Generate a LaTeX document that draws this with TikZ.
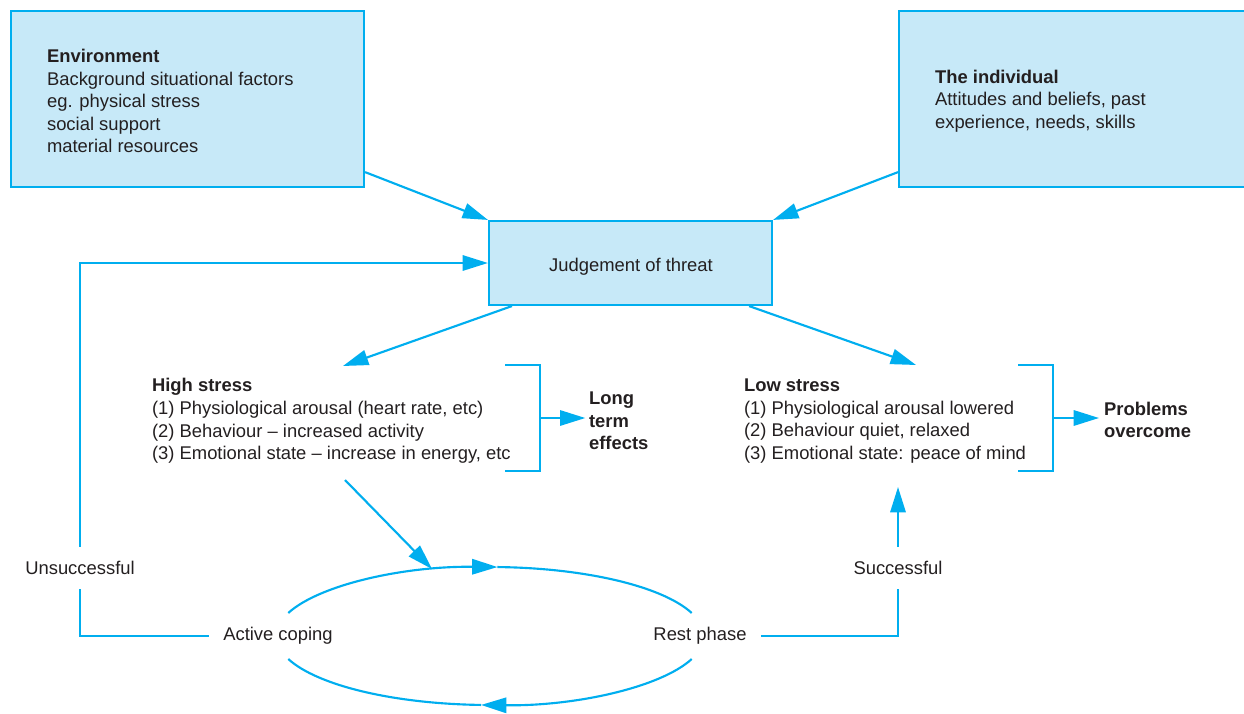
\documentclass[tikz,border=0pt]{standalone}
\usepackage{fontspec}
\setmainfont{Liberation Sans}
\usetikzlibrary{positioning,calc,arrows.meta}
\definecolor{cyanline}{HTML}{00AEEF}
\definecolor{boxfill}{HTML}{C7E9F8}
\definecolor{inktext}{HTML}{231F20}
\newcommand{\bodyfont}{\fontsize{13.8}{16.9}\selectfont}

\begin{document}
\begin{tikzpicture}[x=0.75pt,y=-0.75pt,line width=1.6pt,font=\bodyfont,
  every node/.style={text=inktext},
  panel/.style={draw=cyanline,fill=boxfill,line width=1.6pt,inner sep=0pt},
  txt/.style={align=left,anchor=west,inner sep=0pt},
  lbl/.style={inner xsep=10pt,inner ysep=10pt},
  arr/.style={draw=cyanline,-{Triangle[length=19pt,width=11.5pt]}},
  link/.style={draw=cyanline}]
\useasboundingbox (0,0) rectangle (1244,713);

\node[panel,anchor=north west,minimum width=264.75pt,minimum height=132pt] (env) at (10,10) {};
\node[txt] (envtxt) at (46,101) {\textbf{Environment}\\Background situational factors\\eg. physical stress\\social support\\material resources};
\node[panel,anchor=north west,minimum width=270pt,minimum height=132pt] (indiv) at (898,10) {};
\node[txt] (indtxt) at (934,101) {\textbf{The individual}\\Attitudes and beliefs, past\\experience, needs, skills};
\node[panel,minimum width=212.25pt,minimum height=63pt] (judge) at (630.5,263) {};
\node (judgetxt) at (631,267) {Judgement of threat};

\node[txt] (high) at (151,421) {\textbf{High stress}\\(1) Physiological arousal (heart rate, etc)\\(2) Behaviour – increased activity\\(3) Emotional state – increase in energy, etc};
\node[txt,font=\bodyfont\bfseries] (long) at (588,421) {Long\\term\\effects};
\node[txt] (low) at (743,421) {\textbf{Low stress}\\(1) Physiological arousal lowered\\(2) Behaviour quiet, relaxed\\(3) Emotional state: peace of mind};
\node[txt,font=\bodyfont\bfseries] (probs) at (1103,420) {Problems\\overcome};

\node[lbl] (active) at (278,636) {Active coping};
\node[lbl] (rest) at (700,636) {Rest phase};
\node[lbl] (unsucc) at (80,568) {Unsuccessful};
\node[lbl] (succ) at (898,568) {Successful};

\coordinate (hstop) at (343,366);
\coordinate (lstop) at (916,365);
\coordinate (hsbot) at (345,480);
\coordinate (lptop) at (432,569);
\coordinate (lsbot) at (898,487);
\coordinate (hbr) at (540,418);
\coordinate (lbr) at (1053,418);
\coordinate (loop) at (490,636);

\draw[arr] ([yshift=12pt]env.south east) -- (judge.north west);
\draw[arr] ([yshift=12pt]indiv.south west) -- (judge.north east);
\draw[arr] ([xshift=18pt]judge.south west) -- (hstop);
\draw[arr] ([xshift=-18pt]judge.south east) -- (lstop);

\draw[link] (505,365) -| (540,471) -- (505,471);
\draw[arr,shorten >=2pt] (hbr) -- (hbr -| long.west);
\draw[link] (1018,365) -| (1053,471) -- (1018,471);
\draw[arr,shorten >=3pt] (lbr) -- (lbr -| probs.west);

\draw[arr] (hsbot) -- (lptop);
\draw[arr] ([shift={(160.5:160.5pt and 51.75pt)}]loop) arc[start angle=160.5,end angle=88,x radius=160.5pt,y radius=51.75pt];
\draw[link] ([shift={(88:160.5pt and 51.75pt)}]loop) arc[start angle=88,end angle=19.5,x radius=160.5pt,y radius=51.75pt];
\draw[arr] ([shift={(-19.5:160.5pt and 51.75pt)}]loop) arc[start angle=-19.5,end angle=-92.4,x radius=160.5pt,y radius=51.75pt];
\draw[link] ([shift={(-92.4:160.5pt and 51.75pt)}]loop) arc[start angle=-92.4,end angle=-160.5,x radius=160.5pt,y radius=51.75pt];

\draw[link] (active.west) -| (unsucc.south);
\draw[arr] (unsucc.north) |- (judge.west);
\draw[link] (rest.east) -| (succ.south);
\draw[arr] (succ.north) -- (lsbot);
\end{tikzpicture}
\end{document}
